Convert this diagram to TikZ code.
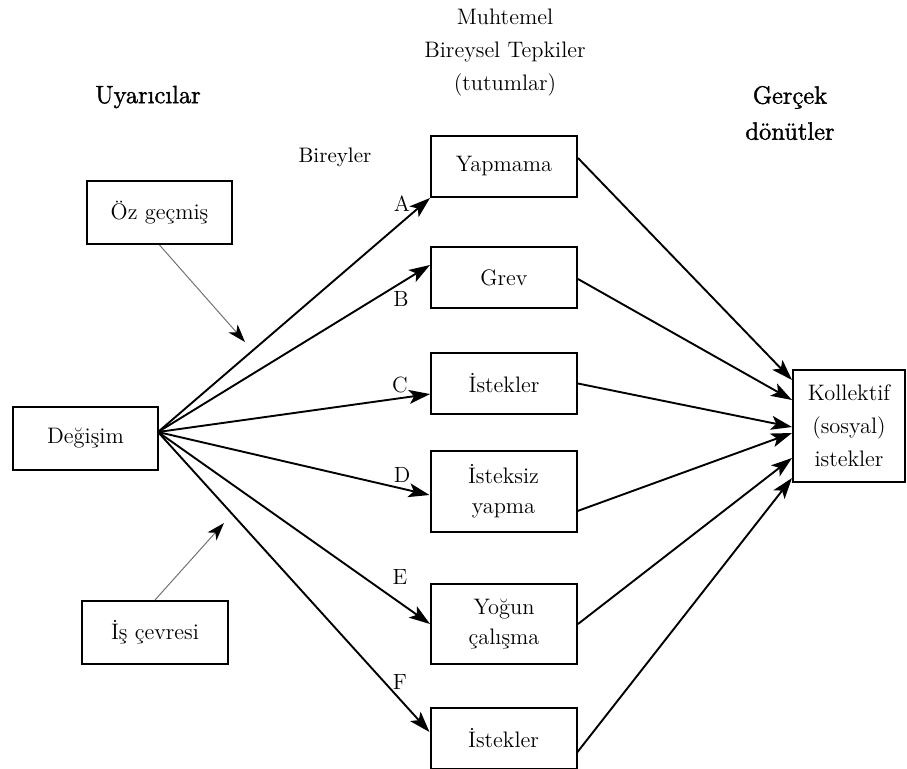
\documentclass[tikz,border=0pt]{standalone}
\usepackage{fontspec}
\newfontfamily\titlefont[FakeBold=1.6]{Latin Modern Roman}
\usetikzlibrary{arrows.meta}
\begin{document}
\begin{tikzpicture}[x=0.5pt,y=-0.5pt,
  box/.style={draw, line width=1pt, inner sep=0pt, align=center,
    font=\fontsize{11.2}{15}\selectfont},
  mid/.style={box, minimum width=73pt, minimum height=30.5pt},
  ttl/.style={align=center, font=\fontsize{11.2}{16.5}\selectfont},
  big/.style={align=center, font=\titlefont\fontsize{12.5}{18}\selectfont},
  lbl/.style={font=\fontsize{11}{13}\selectfont, inner sep=0pt},
  main/.style={line width=0.95pt, -{Stealth[length=10.5pt,width=7pt,inset=2.5pt]}},
  thin/.style={line width=0.5pt, draw=black!55, -{Stealth[length=9pt,width=6pt,inset=2.5pt,color=black]}}
]
\useasboundingbox (0,0) rectangle (907,768);

% titles
\node[big] (uyar) at (148,97) {Uyarıcılar};
\node[ttl] (muht) at (505,53) {Muhtemel\\Bireysel Tepkiler\\(tutumlar)};
\node[big] (gerc) at (790,113) {Gerçek\\dönütler};
\node[lbl, font=\fontsize{10.5}{13}\selectfont] (birey) at (335,157) {Bireyler};

% left boxes
\node[box, minimum width=72.5pt, minimum height=31.5pt] (oz) at (159.5,212.5) {Öz geçmiş};
\node[box, minimum width=72.5pt, minimum height=31.5pt] (deg) at (85.5,438.5) {Değişim};
\node[box, minimum width=73pt, minimum height=31.5pt] (is) at (155,632.5) {İş çevresi};

% middle boxes
\node[mid] (yap) at (504,166.5) {Yapmama};
\node[mid] (grev) at (504,277.5) {Grev};
\node[mid] (ist1) at (504,383.5) {İstekler};
\node[mid, minimum height=40.5pt] (istz) at (503.5,491.5) {İsteksiz\\yapma};
\node[mid, minimum height=40pt] (yog) at (504,624) {Yoğun\\çalışma};
\node[mid] (ist2) at (503.5,738) {İstekler};

% right box
\node[box, minimum width=56pt, minimum height=56pt, font=\fontsize{11.2}{16.5}\selectfont] (kol) at (849,426) {Kollektif\\(sosyal)\\istekler};

% source point and free ends
\coordinate (src) at (158,432);
\coordinate (ozt) at (245,342);
\coordinate (ist) at (224,523);

% left fan
\draw[main] (src) -- (yap.south west);
\draw[main] (src) -- ([yshift=6.25pt]grev.west);
\draw[main] (src) -- ([yshift=-5.25pt]ist1.west);
\draw[main] (src) -- ([yshift=-1.75pt]istz.west);
\draw[main] (src) -- (yog.west);
\draw[main] (src) -- ([yshift=3pt]ist2.west);

% right fan
\draw[main] ([yshift=4.25pt]yap.east) -- ([yshift=23pt]kol.west);
\draw[main] ([yshift=-0.75pt]grev.east) -- ([yshift=13pt]kol.west);
\draw[main] (ist1.east) -- ([yshift=-0.5pt]kol.west);
\draw[main] ([yshift=-9.75pt]istz.east) -- ([yshift=-3.5pt]kol.west);
\draw[main] (yog.east) -- ([yshift=-16pt]kol.west);
\draw[main] ([yshift=-7pt]ist2.east) -- ([yshift=-26pt]kol.west);

% influences
\draw[thin] (oz.south) -- (ozt);
\draw[thin] (is.north) -- (ist);

% letters
\node[lbl] (la) at (402,204) {A};
\node[lbl] (lb) at (401,299) {B};
\node[lbl] (lc) at (400,385) {C};
\node[lbl] (ld) at (402,475) {D};
\node[lbl] (le) at (400,577) {E};
\node[lbl] (lf) at (400,682) {F};
\end{tikzpicture}
\end{document}
